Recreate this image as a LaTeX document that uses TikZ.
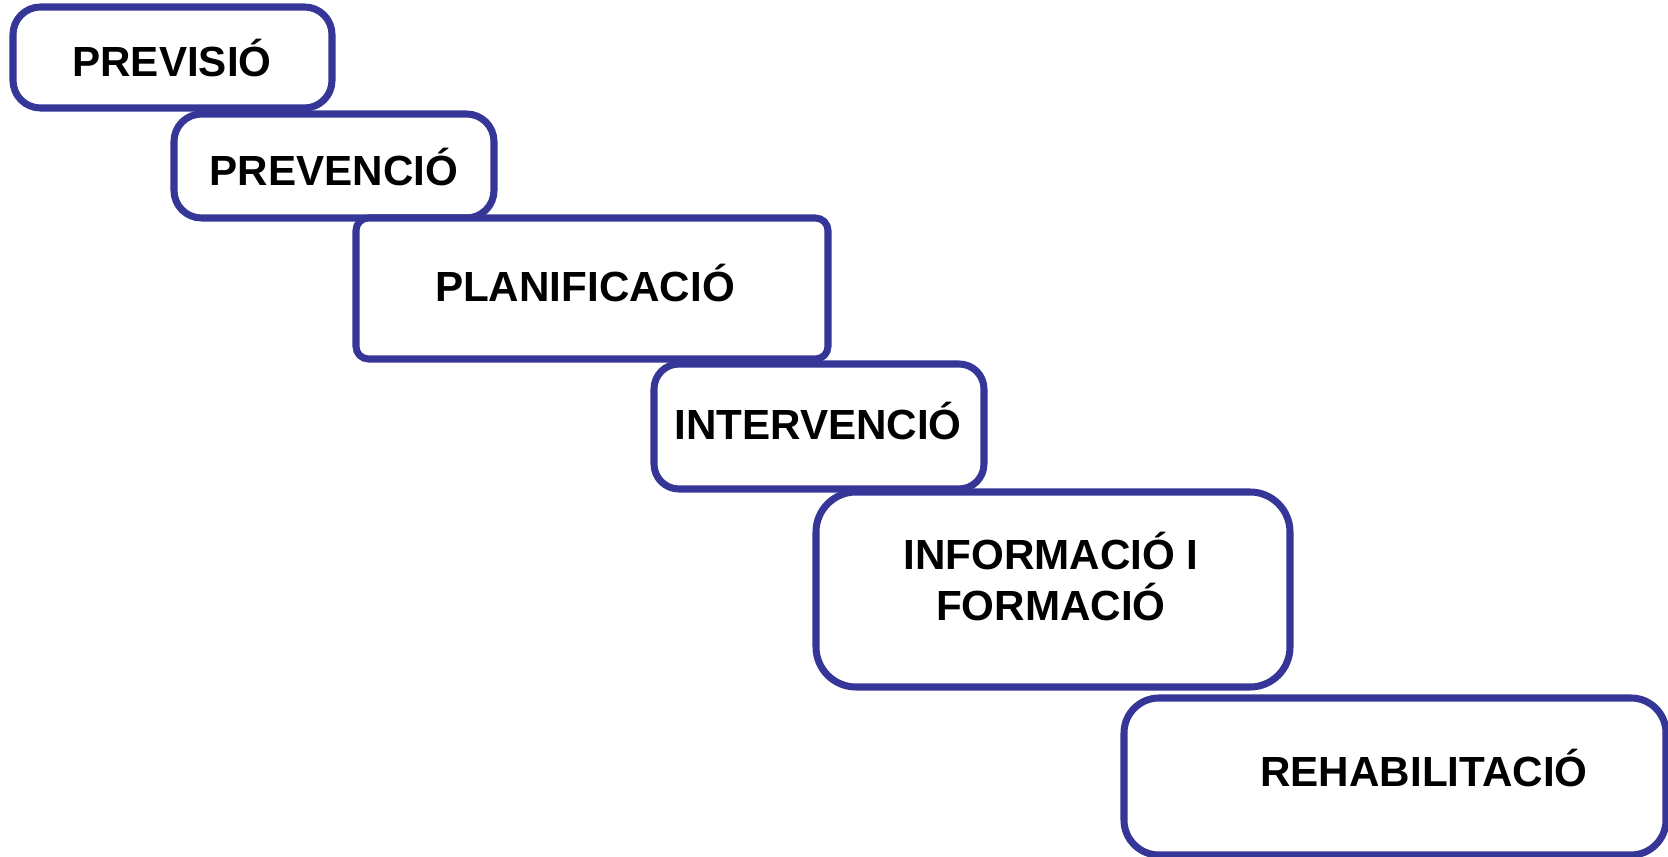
\documentclass[tikz,border=0pt]{standalone}
\usepackage{fontspec}
\setmainfont{Liberation Sans}
\definecolor{stepblue}{RGB}{54,54,153}
\begin{document}
\begin{tikzpicture}[x=0.02cm, y=-0.02cm,
    stepbox/.style = {draw=stepblue, line width=4pt, fill=white},
    lbl/.style = {font=\fontsize{24}{29}\selectfont\bfseries, align=center, inner sep=0pt}]
    \useasboundingbox (0,0) rectangle (1668,857);
    \draw[stepbox, rounded corners=0.55cm] (13,7)     rectangle (332,108);
    \draw[stepbox, rounded corners=0.55cm] (174,114)  rectangle (494,218);
    \draw[stepbox, rounded corners=0.25cm] (356,218)  rectangle (828,359);
    \draw[stepbox, rounded corners=0.5cm]  (654,364)  rectangle (984,489);
    \draw[stepbox, rounded corners=0.8cm]  (816,492)  rectangle (1290,687);
    \draw[stepbox, rounded corners=0.7cm]  (1124,698) rectangle (1666,855);
    \node[lbl] (previsio)     at (172,58)   {PREVISIÓ};
    \node[lbl] (prevencio)    at (334,167)  {PREVENCIÓ};
    \node[lbl] (planificacio) at (585,283)  {PLANIFICACIÓ};
    \node[lbl] (intervencio)  at (818,421)  {INTERVENCIÓ};
    \node[lbl] (informacio)   at (1051,577) {INFORMACIÓ I\\FORMACIÓ};
    \node[lbl] (rehab)        at (1424,768) {REHABILITACIÓ};
\end{tikzpicture}
\end{document}
